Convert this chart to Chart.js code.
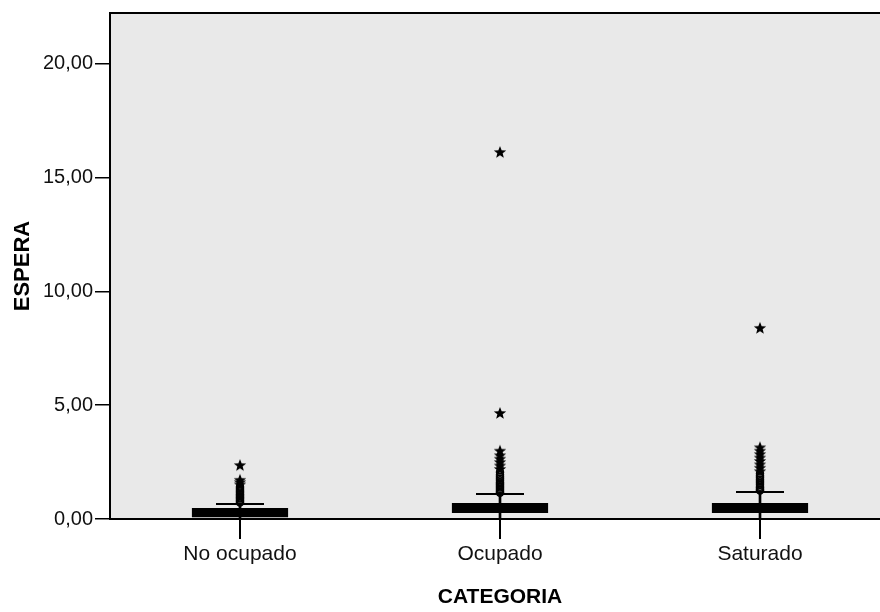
<!DOCTYPE html>
<html>
<head>
<meta charset="utf-8">
<script src="https://cdn.jsdelivr.net/npm/chart.js@4/dist/chart.umd.min.js"></script>
<style>
  html, body { margin: 0; padding: 0; background: #fff; overflow: hidden; }
  canvas { display: block; }
</style>
</head>
<body>
<canvas id="chart" width="900" height="612"></canvas>
<script>
// categories and box statistics (ESPERA by CATEGORIA)
var categories = ['No ocupado', 'Ocupado', 'Saturado'];
var q1 = [0.08, 0.26, 0.26];
var q3 = [0.48, 0.70, 0.70];
var whiskerLow = [0, 0, 0];
var whiskerHigh = [0.66, 1.10, 1.19];

// outliers (circles) and extreme values (stars)
var outliersNo = [0.72, 0.78, 0.84, 0.9, 0.95, 1.0, 1.05, 1.1, 1.16, 1.22, 1.28, 1.35, 1.42];
var extremesNo = [1.52, 1.62, 1.72, 2.37];
var outliersOcup = [1.15, 1.2, 1.26, 1.32, 1.38, 1.44, 1.5, 1.56, 1.62, 1.7, 1.78, 1.86, 1.95, 2.05];
var extremesOcup = [2.2, 2.35, 2.5, 2.65, 2.8, 3.0, 4.66, 16.13];
var outliersSat = [1.25, 1.3, 1.36, 1.42, 1.5, 1.58, 1.66, 1.74, 1.82, 1.9, 2.0];
var extremesSat = [2.1, 2.25, 2.4, 2.55, 2.7, 2.85, 3.0, 3.15, 8.4];

var yTicks = [0, 5, 10, 15, 20];

function pts(cat, vals) {
  return vals.map(function (v) { return { x: cat, y: v }; });
}

// small filled star used as point style
var star = document.createElement('canvas');
star.width = 14; star.height = 14;
var sc = star.getContext('2d');
sc.fillStyle = '#000';
sc.beginPath();
for (var i = 0; i < 10; i++) {
  var r = i % 2 === 0 ? 6.5 : 2.8;
  var a = -Math.PI / 2 + i * Math.PI / 5;
  var px = 7 + r * Math.cos(a), py = 7.5 + r * Math.sin(a);
  if (i === 0) sc.moveTo(px, py); else sc.lineTo(px, py);
}
sc.closePath();
sc.fill();

var plotBg = {
  id: 'plotBg',
  beforeDraw: function (chart) {
    var a = chart.chartArea, c = chart.ctx;
    c.save();
    c.fillStyle = '#e9e9e9';
    c.fillRect(a.left, a.top, a.right - a.left, a.bottom - a.top);
    c.strokeStyle = '#000';
    c.lineWidth = 2;
    c.beginPath();
    c.moveTo(a.right, a.top);
    c.lineTo(a.left, a.top);
    c.lineTo(a.left, a.bottom);
    c.lineTo(a.right, a.bottom);
    c.stroke();
    c.restore();
  }
};

var font = "'Liberation Sans Narrow', 'Arial Narrow', 'Liberation Sans', Arial, sans-serif";

var datasets = [
  {
    type: 'bar', label: 'whisker', grouped: false, order: 5,
    data: categories.map(function (c, i) { return [whiskerLow[i], whiskerHigh[i]]; }),
    backgroundColor: '#000', barThickness: 2
  },
  {
    type: 'bar', label: 'box', grouped: false, order: 4,
    data: categories.map(function (c, i) { return [q1[i], q3[i]]; }),
    backgroundColor: '#000', barPercentage: 0.37, categoryPercentage: 1
  },
  {
    type: 'line', label: 'capHigh', showLine: false, order: 3,
    data: whiskerHigh, pointStyle: 'line', pointRadius: 24, pointBorderWidth: 2,
    borderColor: '#000'
  },
  {
    type: 'line', label: 'capLow', showLine: false, order: 3,
    data: whiskerLow, pointStyle: 'line', pointRadius: 24, pointBorderWidth: 2,
    borderColor: '#000'
  },
  {
    type: 'line', label: 'outliers', showLine: false, order: 2,
    data: pts('No ocupado', outliersNo).concat(pts('Ocupado', outliersOcup), pts('Saturado', outliersSat)),
    pointStyle: 'circle', pointRadius: 3.5, pointBorderWidth: 1.5,
    borderColor: '#000', backgroundColor: 'rgba(0,0,0,0)'
  },
  {
    type: 'line', label: 'extremes', showLine: false, order: 1,
    data: pts('No ocupado', extremesNo).concat(pts('Ocupado', extremesOcup), pts('Saturado', extremesSat)),
    pointStyle: star, borderColor: '#000'
  }
];

new Chart(document.getElementById('chart'), {
  type: 'bar',
  data: { labels: categories, datasets: datasets },
  plugins: [plotBg],
  options: {
    responsive: false,
    animation: false,
    layout: { autoPadding: false, padding: { top: 13, right: 10, left: 0, bottom: 0 } },
    plugins: { legend: { display: false }, tooltip: { enabled: false } },
    scales: {
      x: {
        type: 'category',
        offset: true,
        grid: { drawOnChartArea: false, offset: false, tickLength: 20, color: '#000', lineWidth: 2 },
        border: { display: false },
        ticks: { color: '#111', padding: 3, font: { family: font, size: 21 } },
        title: { display: true, text: 'CATEGORIA', color: '#000', padding: 2,
                 font: { family: font, size: 21, weight: 'bold' } },
        afterFit: function (s) {
          s.height = 93;
          s.paddingLeft = 0; s.paddingRight = 0;
        }
      },
      y: {
        min: 0,
        max: 22.24,
        grid: { drawOnChartArea: false, tickLength: 15, color: '#000', lineWidth: 1.5 },
        border: { display: false },
        afterBuildTicks: function (s) {
          s.ticks = yTicks.map(function (v) { return { value: v }; });
        },
        ticks: {
          color: '#111', padding: 2, font: { family: font, size: 20 },
          callback: function (v) { return v.toFixed(2).replace('.', ','); }
        },
        title: { display: true, text: 'ESPERA', color: '#000', padding: { top: 10, bottom: 4 },
                 font: { family: font, size: 22, weight: 'bold' } },
        afterFit: function (s) {
          s.width = 110;
          s.paddingTop = 0; s.paddingBottom = 0;
        }
      }
    }
  }
});
</script>
</body>
</html>
